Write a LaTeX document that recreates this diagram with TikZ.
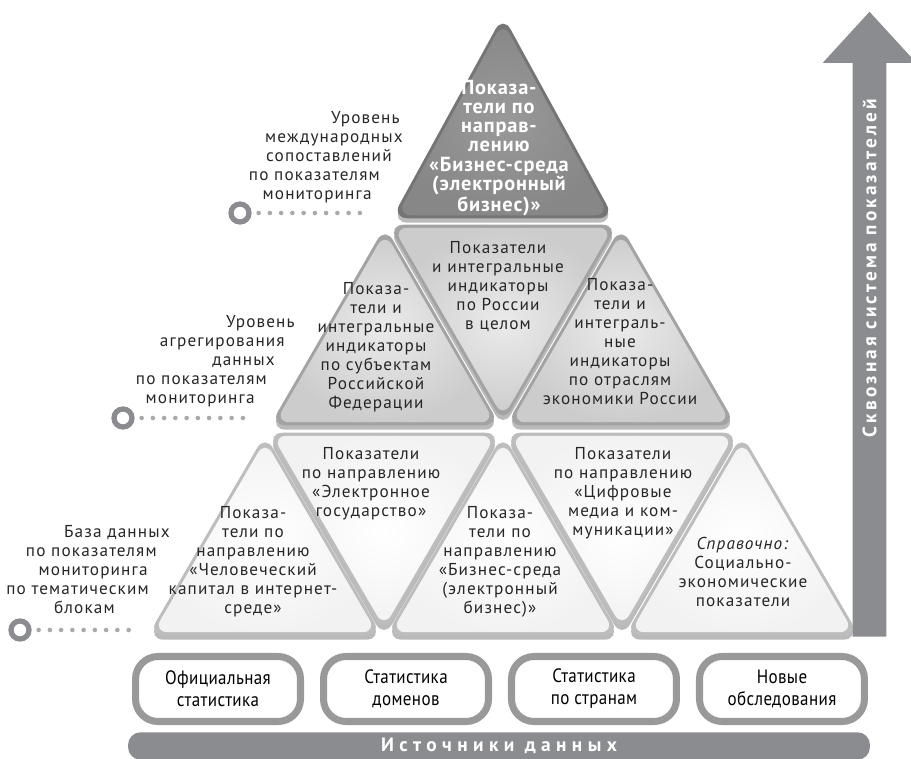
\documentclass[tikz,border=0pt]{standalone}
\usepackage{fontspec}
\setmainfont{PT Sans}[LetterSpace=6.5]
\newfontfamily\narrowfont{PT Sans}[FakeStretch=0.88, LetterSpace=2]
\usetikzlibrary{positioning, shapes.arrows}

\definecolor{rim}{HTML}{8B8C8F}
% blank room at the end of a right-aligned line
\newcommand\stepin[1]{\rule{#1}{0pt}}

\begin{document}
\begin{tikzpicture}[
    x=0.02cm, y=-0.02cm,
    txt/.style={align=center, inner sep=0, text=black!85, font=\fontsize{9.8}{10.8}\selectfont},
    lvl/.style={txt, align=right, anchor=east},
    toptxt/.style={txt, text=white, font=\bfseries\fontsize{11.6}{10.9}\selectfont\addfontfeature{LetterSpace=4}},
    shadow/.style={fill=black!45, opacity=0.6},
    darkrim/.style={fill=black!54},
    darkface/.style={inner color=black!40, outer color=black!47},
    midrim/.style={fill=black!36},
    midface/.style={inner color=black!8, outer color=black!20},
    lowrim/.style={fill=black!26},
    lowface/.style={inner color=white, outer color=black!5},
    ring/.style={circle, draw=rim, line width=3pt, minimum size=0.36cm, inner sep=0},
    dots/.style={draw=rim!75, line width=2.6pt, line cap=round, dash pattern=on 0pt off 6.4pt, shorten <=0.14cm},
    srcbox/.style={draw=black!40, line width=4pt, fill=white, rounded corners=0.45cm, minimum width=3.3cm, minimum height=1.3cm, align=center, font=\narrowfont\fontsize{11}{12.5}\selectfont},
    srcbar/.style={fill=rim, rounded corners=0.25cm, minimum width=14.84cm, minimum height=0.5cm, text=white, font=\bfseries\fontsize{11}{12}\selectfont\addfontfeature{LetterSpace=28}},
    bigarrow/.style={single arrow, fill=rim, rotate=90, minimum height=12.5cm, minimum width=1.86cm, single arrow head extend=0.6cm, single arrow tip angle=85, inner xsep=0, inner ysep=0.33cm}
]
    \useasboundingbox (0,0) rectangle (911,759);

    % pyramid: centre / top / bottom / half width / up(1) or down(-1) / tone
    \foreach \cx/\yt/\yb/\hw/\d/\kind in {
        503/12/220/114/1/dark,
        385/223/427/118/1/mid, 503/223/427/118/-1/mid, 621/223/427/118/1/mid,
        265/431/637/120/1/low, 384/431/637/120/-1/low, 503/431/637/120/1/low,
        622/431/637/120/-1/low, 742/431/637/120/1/low}
    {
        \pgfmathsetmacro\h{\yb-\yt}
        \pgfmathsetmacro\m{(\yb+\yt)/2}
        \pgfmathsetmacro\ay{\m-\d*\h/2}
        \pgfmathsetmacro\by{\m+\d*\h/2}
        % incentre, so that rim and face shrink evenly
        \pgfmathsetmacro\ic{\m+\d*(\h/2-\h/(1+sqrt(1+(\h/\hw)^2)))}
        \fill[shadow, yshift=-2.5pt, scale around={0.975:(\cx,\ic)}, rounded corners=9pt]
            (\cx-\hw,\by) -- (\cx,\ay) -- (\cx+\hw,\by) -- cycle;
        \fill[\kind rim, scale around={0.975:(\cx,\ic)}, rounded corners=9pt]
            (\cx-\hw,\by) -- (\cx,\ay) -- (\cx+\hw,\by) -- cycle;
        \shade[\kind face, scale around={0.93:(\cx,\ic)}, rounded corners=8pt]
            (\cx-\hw,\by) -- (\cx,\ay) -- (\cx+\hw,\by) -- cycle;
    }

    % texts in the pyramid
    \node[toptxt] (bizTop) at (499,148) {Показа-\\тели по\\направ-\\лению\\«Бизнес-среда\\(электронный\\бизнес)»};
    \node[txt] (regions) at (376,347) {Показа-\\тели и\\интегральные\\индикаторы\\по субъектам\\Российской\\Федерации};
    \node[txt] (russia) at (498,287) {Показатели\\и интегральные\\индикаторы\\по России\\в целом};
    \node[txt] (branches) at (620,342) {Показа-\\тели и\\интеграль-\\ные\\индикаторы\\по отраслям\\экономики России};
    \node[txt] (human) at (253,562) {Показа-\\тели по\\направлению\\«Человеческий\\капитал в интернет-\\среде»};
    \node[txt] (egov) at (371,484) {Показатели\\по направлению\\«Электронное\\государство»};
    \node[txt] (bizLow) at (500,562) {Показа-\\тели по\\направлению\\«Бизнес-среда\\(электронный\\бизнес)»};
    \node[txt] (media) at (623,493) {Показатели\\по направлению\\«Цифровые\\медиа и ком-\\муникации»};
    \node[txt] (reference) at (743,572) {\textit{Справочно:}\\Социально-\\экономические\\показатели};

    % levels on the left, lines stepped along the pyramid side
    \node[lvl] (lvlWorld) at (403,157) {Уровень\stepin{0.06cm}\\международных\\сопоставлений\stepin{0.22cm}\\по показателям\stepin{0.46cm}\\мониторинга\stepin{0.62cm}};
    \node[lvl] (lvlAgg) at (295,361) {Уровень\\агрегирования\stepin{0.2cm}\\данных\stepin{0.4cm}\\по показателям\stepin{0.56cm}\\мониторинга\stepin{0.8cm}};
    \node[lvl] (lvlBase) at (170,570) {База данных\\по показателям\stepin{0.26cm}\\мониторинга\stepin{0.44cm}\\по тематическим\stepin{0.42cm}\\блокам\stepin{1.1cm}};

    \node[ring] (ringWorld) at (240,213) {};
    \node[ring] (ringAgg) at (123,418) {};
    \node[ring] (ringBase) at (20,630) {};
    \coordinate (endWorld) at (364,213);
    \coordinate (endAgg) at (248,418);
    \coordinate (endBase) at (130,630);
    \draw[dots] (ringWorld) -- (endWorld);
    \draw[dots] (ringAgg) -- (endAgg);
    \draw[dots] (ringBase) -- (endBase);

    % data sources
    \node[srcbox] (official) at (218,689) {Официальная\\статистика};
    \node[srcbox, right=0.32cm of official] (domains) {Статистика\\доменов};
    \node[srcbox, right=0.32cm of domains] (countries) {Статистика\\по странам};
    \node[srcbox, right=0.32cm of countries] (surveys) {Новые\\обследования};
    \node[srcbar] (sources) at (499,746) {Источники данных};

    % through system arrow
    \node[bigarrow, anchor=tail] (through) at (869.5,637) {};
    \node[rotate=90, text=white, font=\bfseries\fontsize{11}{12}\selectfont\addfontfeature{LetterSpace=16}] (throughTxt) at (869.5,268) {Сквозная система показателей};
\end{tikzpicture}
\end{document}
